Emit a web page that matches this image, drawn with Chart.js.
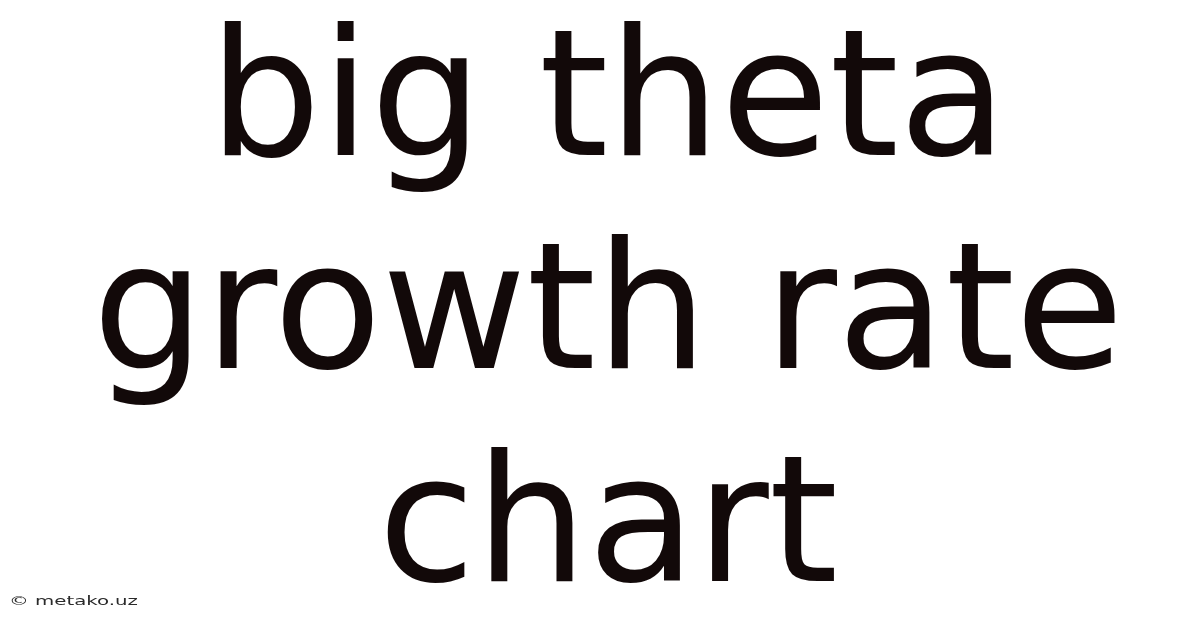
<!DOCTYPE html>
<html>
<head>
<meta charset="utf-8">
<script src="https://cdn.jsdelivr.net/npm/chart.js@4/dist/chart.umd.min.js"></script>
<style>
  html, body { margin: 0; padding: 0; background: #fff; }
  #wrap { position: relative; width: 1200px; height: 628px; }
  #credit {
    position: absolute; left: 9px; top: 593px;
    font-family: 'DejaVu Sans', sans-serif; font-size: 13px;
    color: #2a2a2a; transform: scaleX(1.52); transform-origin: 0 0;
    white-space: nowrap;
  }
</style>
</head>
<body>
<div id="wrap">
  <canvas id="titleChart" width="1200" height="628"></canvas>
  <div id="credit"></div>
</div>
<script>
  // the picture holds no series, only the heading lines and a credit
  const titleLines = ['big theta', 'growth rate', 'chart'];
  const categories = [];
  const seriesValues = [];
  const creditText = '© metako.uz';

  document.getElementById('credit').textContent = creditText;

  const titleSize = 177;

  const titleChartConfig = {
    type: 'line',
    data: {
      labels: categories,
      datasets: [{ data: seriesValues }]
    },
    options: {
      responsive: false,
      animation: false,
      devicePixelRatio: 1,
      layout: { padding: { top: 3, left: 16, right: 0, bottom: 0 } },
      scales: { x: { display: false }, y: { display: false } },
      plugins: {
        legend: { display: false },
        tooltip: { enabled: false },
        title: {
          display: true,
          text: titleLines,
          color: '#120909',
          padding: 0,
          font: { family: "'DejaVu Sans'", size: titleSize, weight: 'normal', lineHeight: 213 / titleSize }
        }
      }
    }
  };

  new Chart(document.getElementById('titleChart'), titleChartConfig);
</script>
</body>
</html>
